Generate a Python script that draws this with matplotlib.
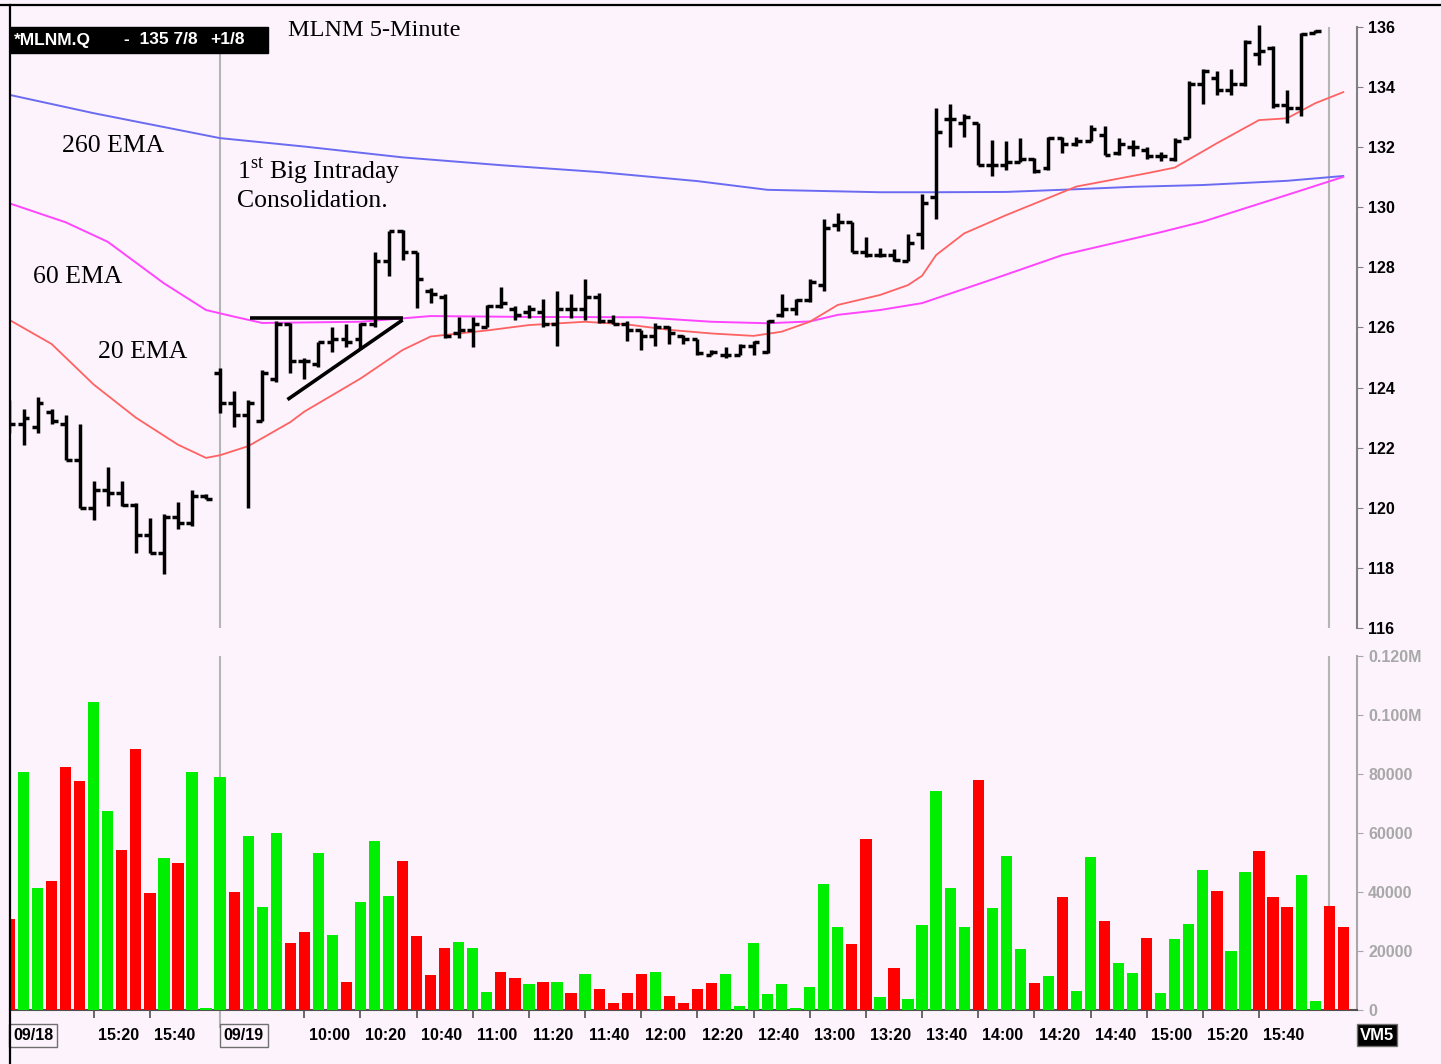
import numpy as np
import matplotlib
matplotlib.use("Agg")
import matplotlib.pyplot as plt
import matplotlib.transforms as mtransforms
from matplotlib.patches import Rectangle
from matplotlib.lines import Line2D

# --- 5-minute bars: 09/18 from 14:50, 09/19 from 09:30 ---
opens = [123.0, 122.8, 122.7, 123.2, 122.8, 121.6, 120.0, 120.6, 120.5, 120.1,
         119.1, 118.5, 119.7, 119.5, 120.4,
         124.5, 123.5, 123.1, 122.9, 124.3, 126.1, 124.9, 124.8, 125.5, 125.6,
         125.6, 126.1, 128.2, 129.2, 128.5, 127.2, 127.0, 125.8, 125.9, 126.0,
         126.7, 126.6, 126.5, 126.5, 126.1, 126.6, 126.6, 127.0, 126.2, 126.1,
         125.9, 125.7, 126.0, 125.7, 125.6, 125.1, 125.1, 125.1, 125.4, 125.2,
         126.4, 126.6, 126.9, 127.4, 129.4, 129.5, 128.5, 128.4, 128.4, 128.2,
         129.1, 130.35, 132.95, 132.8, 132.8, 131.4, 131.4, 131.5, 131.6, 131.3,
         132.3, 132.1, 132.2, 132.4, 131.8, 132.0, 131.9, 131.7, 131.6, 132.3,
         134.1, 134.3, 133.9, 134.1, 135.1, 135.3, 133.4, 133.3, 135.8]
highs = [123.6, 123.3, 123.7, 123.3, 123.1, 122.8, 120.9, 121.35, 120.9, 120.15,
         119.65, 119.8, 120.2, 120.6, 120.45,
         124.65, 123.9, 123.6, 124.6, 126.2, 126.15, 125.0, 125.5, 126.0, 126.1,
         126.15, 128.5, 129.2, 129.25, 128.5, 127.3, 127.1, 126.35, 126.35, 126.75,
         127.35, 126.7, 126.75, 126.95, 127.2, 127.1, 127.6, 127.15, 126.4, 126.2,
         125.9, 126.15, 126.05, 125.75, 125.6, 125.25, 125.35, 125.45, 125.55, 126.25,
         127.1, 126.95, 127.6, 129.6, 129.8, 129.5, 129.0, 128.65, 128.6, 129.1,
         130.45, 133.3, 133.45, 133.1, 132.8, 132.25, 132.2, 132.3, 131.65, 132.35,
         132.35, 132.35, 132.75, 132.7, 132.3, 132.25, 132.0, 131.85, 132.3, 134.2,
         134.6, 134.55, 134.6, 135.55, 136.05, 135.35, 133.9, 135.8, 135.9]
lows = [122.5, 122.1, 122.5, 122.8, 121.6, 120.0, 119.6, 120.05, 120.05, 118.5,
        118.5, 117.8, 119.3, 119.4, 120.3,
        123.15, 122.7, 120.0, 122.9, 124.2, 124.5, 124.3, 124.7, 125.2, 125.35,
        125.3, 126.0, 127.7, 128.25, 126.65, 126.8, 125.65, 125.65, 125.35, 126.0,
        126.65, 126.25, 126.3, 126.0, 125.4, 126.3, 126.25, 126.15, 126.1, 125.55,
        125.25, 125.4, 125.45, 125.45, 125.1, 125.1, 125.0, 125.1, 125.1, 125.15,
        126.35, 126.4, 126.85, 127.2, 129.2, 128.5, 128.35, 128.35, 128.2, 128.2,
        128.6, 129.6, 132.0, 132.35, 131.4, 131.05, 131.25, 131.5, 131.15, 131.25,
        131.8, 132.05, 132.2, 131.75, 131.75, 131.7, 131.6, 131.55, 131.55, 132.3,
        133.45, 133.75, 133.75, 134.05, 134.75, 133.3, 132.8, 133.05, 135.8]
closes = [122.8, 123.0, 123.5, 122.9, 121.6, 120.0, 120.6, 120.5, 120.1, 119.1,
          118.5, 119.7, 119.5, 120.4, 120.3,
          123.5, 123.1, 123.5, 124.5, 126.1, 124.9, 124.9, 125.5, 125.6, 125.5,
          126.1, 128.2, 129.2, 128.5, 127.6, 127.1, 125.7, 125.9, 126.1, 126.7,
          126.8, 126.4, 126.6, 126.1, 126.6, 126.6, 127.0, 126.2, 126.1, 125.9,
          125.7, 126.0, 125.8, 125.6, 125.15, 125.2, 125.1, 125.4, 125.5, 126.2,
          126.6, 126.9, 127.5, 129.3, 129.5, 128.5, 128.4, 128.4, 128.25, 128.8,
          130.15, 132.5, 132.95, 133.0, 131.4, 131.4, 131.5, 131.6, 131.2, 132.3,
          132.1, 132.2, 132.6, 131.75, 132.1, 132.0, 131.7, 131.7, 132.2, 134.1,
          134.55, 133.9, 134.1, 135.5, 135.2, 133.4, 133.3, 135.75, 135.875]

volumes = [30700, 80800, 41200, 43800, 82500, 77700, 104500, 67500, 54200, 88400,
           39500, 51400, 49700, 80800, 600,
           79100, 40100, 59100, 35000, 60100, 22600, 26600, 53100, 25400, 9600,
           36500, 57300, 38800, 50600, 25100, 11900, 20900, 23200, 20900, 6200,
           13000, 10700, 8800, 9600, 9600, 5900, 12100, 7000, 2500, 5900,
           12100, 13000, 4700, 2500, 7000, 9300, 12100, 1400, 22600, 5300,
           8700, 800, 7700, 42700, 28000, 22300, 57900, 4300, 14100, 3600,
           28800, 74200, 41200, 28000, 78000, 34500, 52300, 20600, 9000, 11500,
           38400, 6600, 51800, 30300, 16000, 12400, 24500, 5700, 24000, 29200,
           47500, 40300, 20000, 46700, 53900, 38400, 35000, 45800, 3200, 35400,
           28300]
vol_up = list("rggrrrggrrrgrgg"
              "grgggrrggrgggrrrrggg"
              "rrgrgrgrrrrgrrrrggggggg"
              "ggrrgrgggg"
              "grgggrgrggrggrggggrggrrrggrr")

# moving averages (bar index, price)
ema20_idx = [0, 3, 6, 9, 12, 14, 15, 17, 20, 21, 25, 28, 30, 34, 37, 41, 44, 47,
             50, 53, 55, 57, 59, 62, 64, 65, 66, 68, 71, 76, 81, 83, 86, 89, 91, 93, 95]
ema20 = [126.25, 125.45, 124.1, 123.0, 122.1, 121.66, 121.75, 122.05, 122.85, 123.2,
         124.3, 125.25, 125.7, 125.9, 126.08, 126.19, 126.1, 125.92, 125.8, 125.72,
         125.86, 126.19, 126.75, 127.08, 127.41, 127.72, 128.41, 129.13, 129.74, 130.69,
         131.13, 131.32, 132.13, 132.9, 132.96, 133.46, 133.83]
ema60_idx = [0, 4, 7, 11, 14, 16, 18, 25, 30, 37, 45, 50, 54, 57, 59, 62, 65, 70, 75,
             82, 85, 91, 95]
ema60 = [130.13, 129.5, 128.85, 127.47, 126.58, 126.36, 126.15, 126.19, 126.38, 126.35,
         126.34, 126.19, 126.14, 126.2, 126.42, 126.58, 126.81, 127.6, 128.41, 129.17,
         129.52, 130.41, 131.01]
ema260_idx = [0, 6, 15, 21, 28, 35, 42, 49, 54, 62, 66, 71, 76, 80, 85, 91, 95]
ema260 = [133.74, 133.13, 132.3, 132.02, 131.66, 131.4, 131.17, 130.87, 130.58, 130.5,
          130.5, 130.51, 130.6, 130.68, 130.74, 130.88, 131.04]

# consolidation triangle drawn by hand on the chart
tri_top_x = [17.1, 28.0]
tri_top_y = [126.32, 126.32]
tri_trend_x = [19.8, 28.0]
tri_trend_y = [123.6, 126.25]

day1_labels = ['15:20', '15:40']
day2_labels = ['10:00', '10:20', '10:40', '11:00', '11:20', '11:40', '12:00', '12:20',
               '12:40', '13:00', '13:20', '13:40', '14:00', '14:20', '14:40', '15:00',
               '15:20', '15:40']
price_ticks = list(range(116, 137, 2))
vol_ticks = [0, 20000, 40000, 60000, 80000, 100000, 120000]
vol_tick_labels = ['0', '20000', '40000', '60000', '80000', '0.100M', '0.120M']


def minutes(hhmm):
    h, m = hhmm.split(':')
    return int(h) * 60 + int(m)


def bar_index(day, hhmm):
    # day 0 starts at 14:50 (bar 0), day 1 starts at 09:30 (bar 15)
    if day == 0:
        return (minutes(hhmm) - minutes('14:50')) // 5
    return 15 + (minutes(hhmm) - minutes('09:30')) // 5


W, H = 1441, 1064
BG = '#FCF3FC'
plt.rcParams['font.family'] = ['Liberation Sans', 'DejaVu Sans']
plt.rcParams['mathtext.fontset'] = 'custom'
plt.rcParams['mathtext.rm'] = 'Liberation Serif'
SERIF = ['Liberation Serif', 'DejaVu Serif']


def fig_rect(x0, y0, x1, y1):
    return [x0 / W, 1 - y1 / H, (x1 - x0) / W, (y1 - y0) / H]


def fxy(x, y):
    return x / W, 1 - y / H


fig = plt.figure(figsize=(W / 100, H / 100), dpi=100, facecolor=BG)
ax = fig.add_axes(fig_rect(10, 5, 1357, 628))
axv = fig.add_axes(fig_rect(10, 650, 1357, 1010), sharex=ax)
for a in (ax, axv):
    a.set_facecolor(BG)
    a.spines['left'].set_visible(False)
    a.spines['top'].set_visible(False)

# price bars
idx = np.arange(len(closes))
lw_bar = 2.5
ax.vlines(idx, lows, highs, color='black', lw=lw_bar, zorder=4)
ax.hlines(opens, idx - 0.42, idx, color='black', lw=lw_bar, zorder=4)
ax.hlines(closes, idx, idx + 0.42, color='black', lw=lw_bar, zorder=4)

ax.plot(ema260_idx, ema260, color='#6B6BF2', lw=1.4, zorder=2)
ax.plot(ema60_idx, ema60, color='#FF45FF', lw=1.4, zorder=2)
ax.plot(ema20_idx, ema20, color='#FF6262', lw=1.3, zorder=2)

ax.plot(tri_top_x, tri_top_y, color='black', lw=2.6, zorder=5, solid_capstyle='butt')
ax.plot(tri_trend_x, tri_trend_y, color='black', lw=2.6, zorder=5, solid_capstyle='butt')

# day separators
sep = [bar_index(1, '09:30'), len(volumes) - 2]
ax.vlines(sep, 116, 136, color='#B5B5B5', lw=1.5, zorder=1)
axv.vlines(sep[0], -6000, 120000, color='#B5B5B5', lw=1.5, zorder=1, clip_on=False)
axv.vlines(sep[1], 0, 120000, color='#B5B5B5', lw=1.5, zorder=1)

# volume
vx = np.arange(len(volumes))
vcol = ['#00EE00' if c == 'g' else '#FF0000' for c in vol_up]
axv.bar(vx, volumes, width=0.8, color=vcol, zorder=3)

ax.set_xlim(0.036, 95.98)
ax.set_ylim(116, 136.73)
axv.set_ylim(0, 122034)

# price axis on the right
ax.yaxis.tick_right()
ax.set_yticks(price_ticks)
ax.set_yticklabels([str(t) for t in price_ticks], fontweight='bold')
ax.tick_params(axis='y', length=4, color='#808080', labelsize=11.5, pad=4)
ax.spines['right'].set_bounds(116, 136)
ax.spines['right'].set_color('#808080')
ax.spines['right'].set_linewidth(1.5)
ax.spines['bottom'].set_visible(False)
ax.tick_params(axis='x', bottom=False, labelbottom=False)

axv.yaxis.tick_right()
axv.set_yticks(vol_ticks)
axv.set_yticklabels(vol_tick_labels, fontweight='bold', color='#A8A8A8')
axv.tick_params(axis='y', length=4, color='#A8A8A8', labelsize=11.5, pad=4)
axv.spines['right'].set_bounds(0, 120000)
axv.spines['right'].set_color('#A8A8A8')
axv.spines['right'].set_linewidth(1.5)
axv.spines['bottom'].set_color('#505050')
axv.spines['bottom'].set_linewidth(1.5)

# time axis
tick_pos = [bar_index(0, t) for t in day1_labels] + [bar_index(1, t) for t in day2_labels]
tick_lab = day1_labels + day2_labels
axv.set_xticks(tick_pos)
axv.set_xticklabels([])
axv.tick_params(axis='x', length=6, width=1.2, color='#505050')
lab_tr = mtransforms.blended_transform_factory(axv.transData, axv.transAxes)
for p, t in zip(tick_pos, tick_lab):
    axv.text(p + 0.3, -0.07, t, transform=lab_tr, ha='left', va='center',
             fontsize=11.5, fontweight='bold')
for p, t in [(0, '09/18'), (bar_index(1, '09:30'), '09/19')]:
    axv.text(p + 0.25, -0.07, t, transform=lab_tr, ha='left', va='center',
             fontsize=11.5, fontweight='bold',
             bbox=dict(boxstyle='square,pad=0.25', fc='none', ec='#707070', lw=1))

# frame lines
fig.add_artist(Line2D([0, 1], [1 - 5 / H] * 2, transform=fig.transFigure, color='black', lw=1.6))
fig.add_artist(Line2D([10 / W] * 2, [0, 1 - 5 / H], transform=fig.transFigure, color='black', lw=1.6))

# quote box
fig.add_artist(Rectangle(fxy(10, 53), 258 / W, 26 / H, transform=fig.transFigure,
                         color='black', zorder=6))
fig.text(*fxy(14, 40), '*MLNM.Q', color='white', fontsize=12.5, fontweight='bold', va='center', zorder=7)
fig.text(*fxy(124, 40), '-  135 7/8', color='white', fontsize=12.5, fontweight='bold', va='center', zorder=7)
fig.text(*fxy(210, 40), '+1/8', color='white', fontsize=12.5, fontweight='bold', va='center', zorder=7)
fig.text(*fxy(288, 30), 'MLNM 5-Minute', family=SERIF, fontsize=17.5, va='center')

fig.text(*fxy(1377, 1035), 'VM5', color='white', fontsize=12, fontweight='bold', ha='center', va='center',
         bbox=dict(boxstyle='square,pad=0.2', fc='black', ec='#707070'))

# annotations
fig.text(*fxy(62, 146), '260 EMA', family=SERIF, fontsize=18.5, va='center')
fig.text(*fxy(33, 277), '60 EMA', family=SERIF, fontsize=18.5, va='center')
fig.text(*fxy(98, 352), '20 EMA', family=SERIF, fontsize=18.5, va='center')
fig.text(*fxy(237, 171), r'1$^{\mathrm{st}}$ Big Intraday', family=SERIF, fontsize=18.5, va='center')
fig.text(*fxy(237, 201), 'Consolidation.', family=SERIF, fontsize=18.5, va='center')

fig.savefig('out.png', dpi=100, facecolor=BG)
